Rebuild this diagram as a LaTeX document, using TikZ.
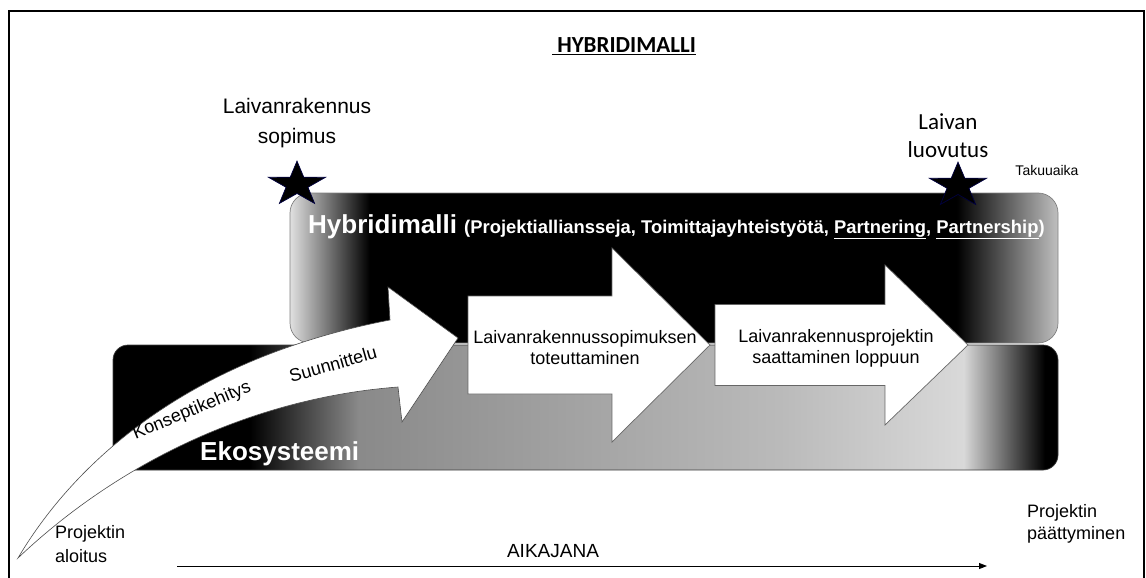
\documentclass[tikz,border=0pt]{standalone}
\usepackage{fontspec}
\setmainfont{Liberation Sans}
\newfontfamily\calfont{Carlito}
\usetikzlibrary{shapes.geometric,arrows.meta}

\pgfdeclarehorizontalshading{hybridshade}{100bp}{rgb(0bp)=(0.88,0.88,0.88); rgb(25bp)=(0.88,0.88,0.88); rgb(30.2bp)=(0,0,0); rgb(68.4bp)=(0,0,0); rgb(75bp)=(0.75,0.75,0.75); rgb(100bp)=(0.75,0.75,0.75)}
\pgfdeclarehorizontalshading{ekoshade}{100bp}{rgb(0bp)=(0,0,0); rgb(32.25bp)=(0,0,0); rgb(38bp)=(0.54,0.54,0.54); rgb(60.3bp)=(0.73,0.73,0.73); rgb(70bp)=(0.85,0.85,0.85); rgb(74.3bp)=(0,0,0); rgb(100bp)=(0,0,0)}

\begin{document}
\begin{tikzpicture}[x=1pt,y=-1pt,
  txt/.style={font=\fontsize{18}{21}\selectfont, align=center, inner sep=0pt},
  blockarrow/.style={fill=white, draw=black!60, line width=0.7pt},
  mstar/.style={star, star points=5, star point ratio=2.6, minimum size=60pt, inner sep=0pt, fill=black, draw=blue!25!black, line width=0.7pt, yscale=0.78}]
        \useasboundingbox (0,0) rectangle (1146,578);
        \draw[line width=1.2pt] (9,578) -- (9,11) -- (1144,11) -- (1144,578);
        \node[anchor=base, inner sep=0pt] (title) at (624,53) {\calfont\bfseries\fontsize{23}{27}\selectfont\underline{\ HYBRIDIMALLI}};

        \path[shading=ekoshade, draw=black!75, line width=0.7pt, rounded corners=15pt] (113,345) rectangle (1058,470);
        \path[shading=hybridshade, draw=black!50, line width=0.7pt, rounded corners=20pt] (290,193) rectangle (1058,343);
        \node[anchor=base west, text=white, inner sep=0pt] (hybrid) at (308,233) {\bfseries\fontsize{26}{30}\selectfont Hybridimalli \fontsize{18.4}{22}\selectfont(Projektialliansseja, Toimittajayhteistyötä, \underline{Partnering}, \underline{Partnership})};
        \node[anchor=base west, text=white, inner sep=0pt] (eko) at (200,460) {\bfseries\fontsize{26}{30}\selectfont Ekosysteemi};

        \foreach \l/\m/\t/\b/\h in {468/612/710/49/97, 715/885/968/40.5/80}
        \draw[blockarrow] (\l,345-\b) -- (\m,345-\b) -- (\m,345-\h) -- (\t,345) -- (\m,345+\h) -- (\m,345+\b) -- (\l,345+\b) -- cycle;
        \draw[fill=white, draw=black!70, line width=0.6pt] (18,558) .. controls (70,470) and (180,360) .. (390,320) -- (388,287) -- (458,338) -- (402,422) -- (398,387) .. controls (230,400) and (100,480) .. (18,558) -- cycle;

        \node[txt, rotate=22.5] (konsepti) at (192,411) {Konseptikehitys};
        \node[txt, rotate=16] (suunn) at (333,364) {Suunnittelu};
        \node[txt] (toteutus) at (585,348) {Laivanrakennussopimuksen\\toteuttaminen};
        \node[txt] (loppuun) at (836,348) {Laivanrakennusprojektin\\saattaminen loppuun};

        \node[mstar] (sopstar) at (297,184.5) {};
        \node[mstar] (luovstar) at (958,185.5) {};
        \node[txt, font=\fontsize{21}{30}\selectfont] (sopimus) at (297,123) {Laivanrakennus\\sopimus};
        \node[txt, font=\calfont\fontsize{23}{28}\selectfont] (luovutus) at (948,136) {Laivan\\luovutus};
        \node[anchor=base, inner sep=0pt, font=\fontsize{14}{17}\selectfont] (takuu) at (1047,175) {Takuuaika};

        \node[txt, align=left, anchor=west] (aloitus) at (55,544) {Projektin\\[3pt]aloitus};
        \node[txt, align=left, anchor=west] (paattyminen) at (1027,524) {Projektin\\[1pt]päättyminen};
        \node[anchor=base, inner sep=0pt, font=\fontsize{19}{22}\selectfont] (aikajana) at (553,557) {AIKAJANA};
        \coordinate (t0) at (177,566);
        \coordinate (t1) at (987,566);
        \draw[-{Triangle[length=8pt,width=6pt]}, line width=0.9pt] (t0) -- (t1);
        \end{tikzpicture}
\end{document}
